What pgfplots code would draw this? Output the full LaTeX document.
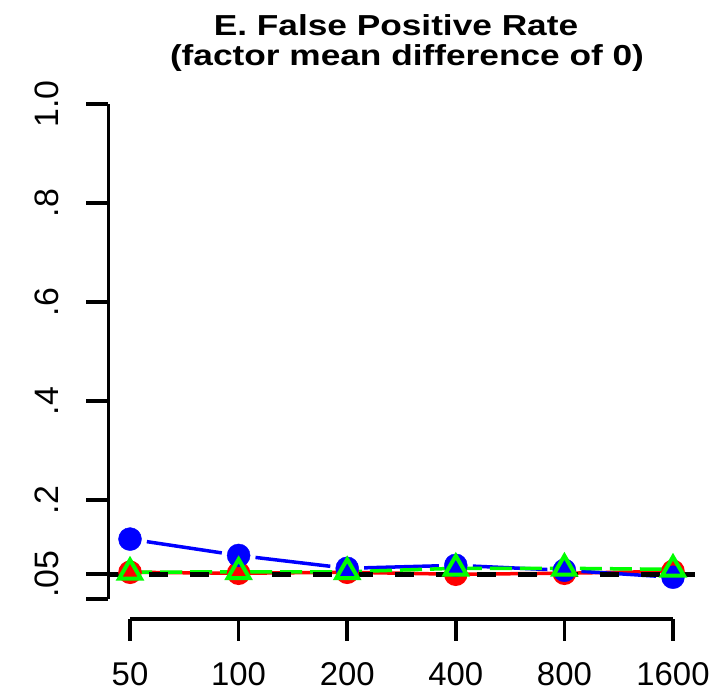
\documentclass[border=0pt]{standalone}
\usepackage{pgfplots}
\pgfplotsset{compat=1.18}
\usepackage{fontspec}
\setmainfont{Liberation Sans}
\usepackage{graphicx}
\newcommand{\xl}[1]{{\fontsize{33}{33}\selectfont #1}}
\newcommand{\tl}[1]{\scalebox{1.22}[1]{\bfseries\fontsize{29}{29}\selectfont #1}}
\definecolor{rblue}{RGB}{0,0,255}
\definecolor{rred}{RGB}{255,0,0}
\definecolor{rgreen}{RGB}{0,255,0}
\begin{document}
\begin{tikzpicture}[x=1bp,y=1bp]
\useasboundingbox (0,0) rectangle (722,699);
\begin{axis}[
  at={(108.3bp,80.2bp)}, anchor=south west,
  scale only axis, width=586.4bp, height=534.6bp,
  xmin=-0.2, xmax=5.2, ymin=-0.04, ymax=1.04,
  axis x line*=bottom, axis y line*=left,
  axis line style={draw=none},
  xtick={0,1,2,3,4,5},
  xticklabels={\xl{50},\xl{100},\xl{200},\xl{400},\xl{800},\xl{1600}},
  ytick={0,0.05,0.2,0.4,0.6,0.8,1.0},
  yticklabels={,.05,.2,.4,.6,.8,1.0},
  tick align=outside, major tick length=22bp,
  tick style={line width=3.5bp, black},
  xticklabel style={inner sep=3.33bp, yshift=-18bp},
  yticklabel style={rotate=90, anchor=south, font=\fontsize{34}{34}\selectfont, yshift=24bp},
  clip=false,
]
\draw[line width=3.5bp] (axis cs:0,-0.04) -- (axis cs:5,-0.04);
\draw[line width=3.5bp] (axis cs:-0.2,0) -- (axis cs:-0.2,1);
% red
\addplot[rred, line width=3.5bp, mark=*, mark size=10bp, mark options={solid}]
  coordinates {(0,0.054) (1,0.052) (2,0.054) (3,0.050) (4,0.052) (5,0.056)};
% blue
\addplot[rblue, line width=3.5bp, shorten <=17bp, shorten >=17bp] coordinates {(0,0.121) (1,0.088)};
\addplot[rblue, line width=3.5bp, shorten <=17bp, shorten >=17bp] coordinates {(1,0.088) (2,0.062)};
\addplot[rblue, line width=3.5bp, shorten <=17bp, shorten >=17bp] coordinates {(2,0.062) (3,0.068)};
\addplot[rblue, line width=3.5bp, shorten <=17bp, shorten >=17bp] coordinates {(3,0.068) (4,0.058)};
\addplot[rblue, line width=3.5bp, shorten <=17bp, shorten >=17bp] coordinates {(4,0.058) (5,0.044)};
\addplot[rblue, only marks, mark=*, mark size=11.5bp]
  coordinates {(0,0.121) (1,0.088) (2,0.062) (3,0.068) (4,0.058) (5,0.044)};
% green
\addplot[rgreen, line width=3.5bp, dash pattern=on 22bp off 8bp, mark=triangle, mark size=12.5bp, mark options={solid, line width=4bp, fill=none}]
  coordinates {(0,0.054) (1,0.055) (2,0.055) (3,0.062) (4,0.062) (5,0.060)};
% reference line
\addplot[black, line width=5bp, dash pattern=on 19bp off 22bp] coordinates {(-0.2,0.05) (5.2,0.05)};
\end{axis}
\node at (396,674) {\tl{E. False Positive Rate}};
\node at (407,641) {\tl{(factor mean difference of 0)}};
\end{tikzpicture}
\end{document}
